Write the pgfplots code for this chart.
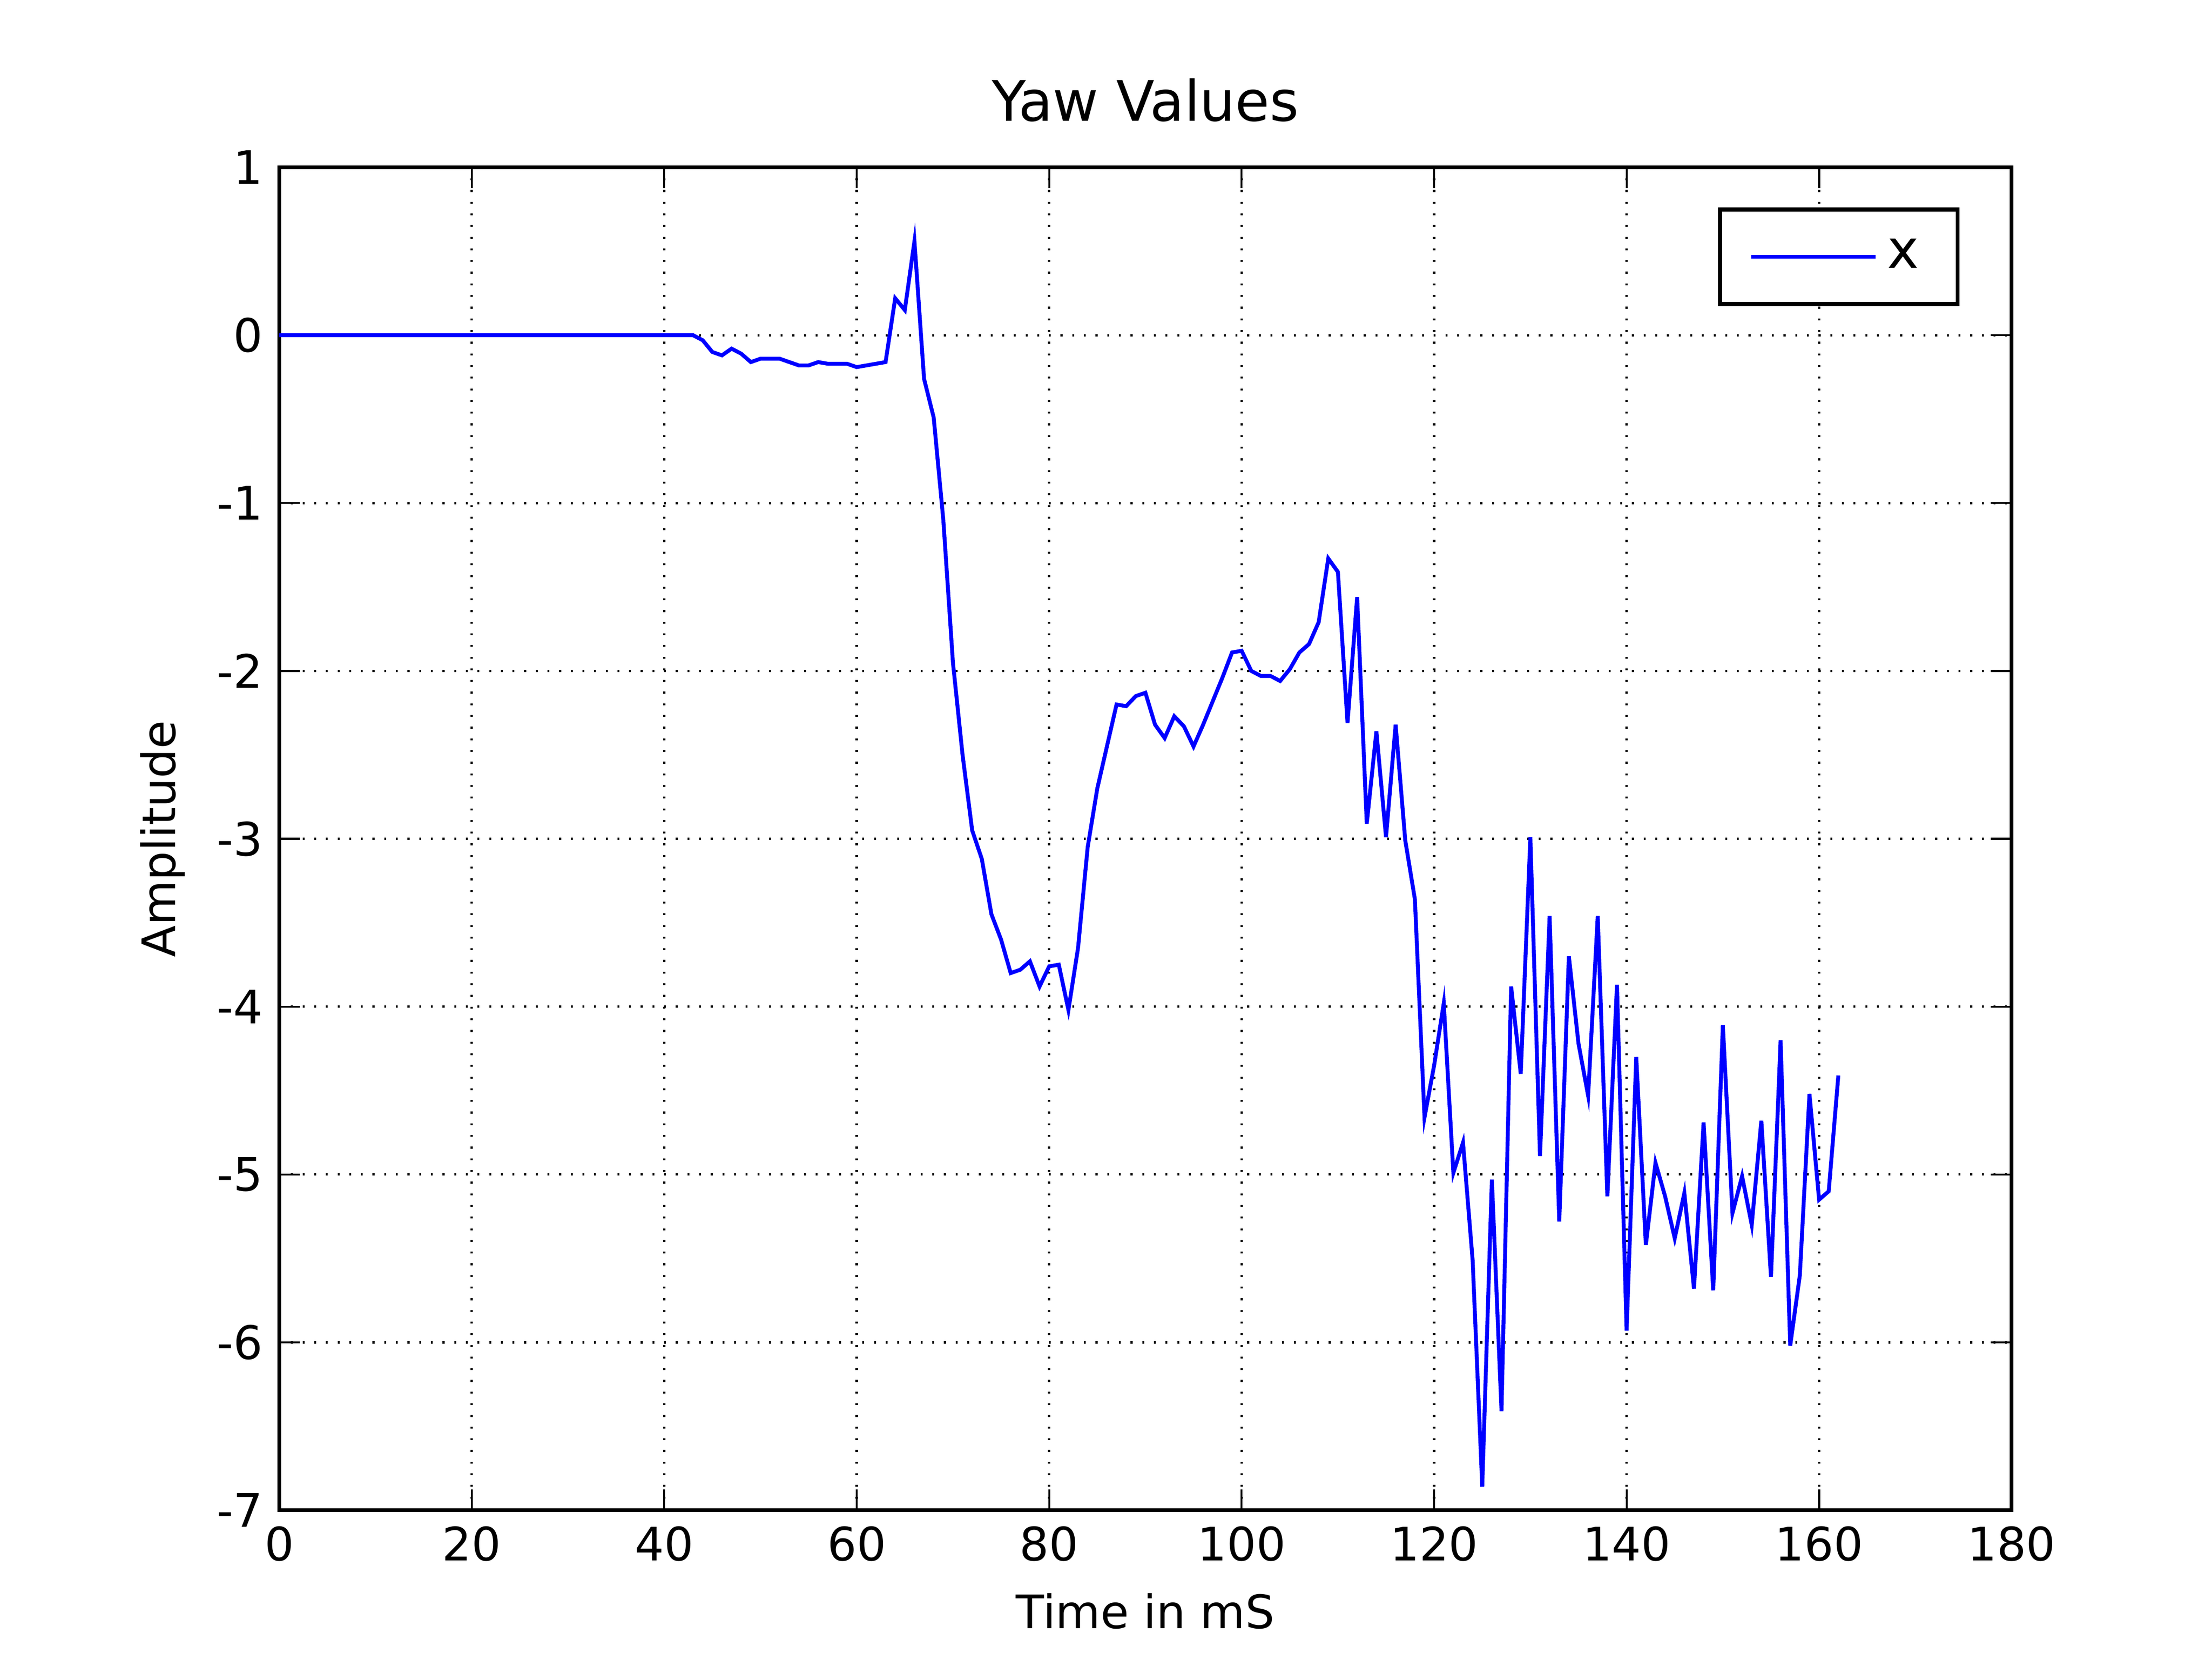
\documentclass[border=0pt]{standalone}
\usepackage{pgfplots}
\pgfplotsset{compat=1.18}
\usepackage{fontspec}
\setmainfont{DejaVu Sans}
\begin{document}
\fontsize{9.5}{11}\selectfont
\begin{tikzpicture}
\path[use as bounding box] (-2.02cm,-1.08cm) rectangle (13.98cm,10.92cm);
\begin{axis}[scale only axis, width=12.53cm, height=9.71cm, at={(0,0)}, anchor=south west,
 xmin=0, xmax=180, ymin=-7, ymax=1,
 xtick={0,20,...,180}, ytick={-7,...,1},
 tick align=inside, tick style={black, thin},
 grid=major, major grid style={black, dotted, line width=0.5pt},
 axis line style={black, line width=0.8pt},
 title={\fontsize{11.5}{13}\selectfont Yaw Values},
 xlabel={Time in mS}, ylabel={Amplitude},
 /pgf/number format/assume math mode=true,
 ticklabel style={font=\fontsize{9.5}{11}\selectfont},
 legend pos=north east,
 legend style={draw=black, line width=0.8pt, font=\fontsize{11}{13}\selectfont, inner xsep=6pt, inner ysep=4pt},
 legend cell align=left,
 legend image code/.code={\draw[#1] (0cm,0cm) -- (0.9cm,0cm);},
]
\addplot[blue, line width=0.8pt] coordinates {
(0,0)(10,0)(20,0)(30,0)(40,0)(43,0)(44,-0.03)(45,-0.1)(46,-0.12)(47,-0.08)(48,-0.11)(49,-0.16)(50,-0.14)(51,-0.14)(52,-0.14)(53,-0.16)(54,-0.18)(55,-0.18)(56,-0.16)(57,-0.17)(58,-0.17)(59,-0.17)(60,-0.19)(61,-0.18)(62,-0.17)(63,-0.16)(64,0.22)(65,0.15)(66,0.56)(67,-0.26)(68,-0.49)(69,-1.1)(70,-1.95)(71,-2.5)(72,-2.95)(73,-3.12)(74,-3.45)(75,-3.6)(76,-3.8)(77,-3.78)(78,-3.73)(79,-3.88)(80,-3.76)(81,-3.75)(82,-4.02)(83,-3.65)(84,-3.05)(85,-2.7)(86,-2.45)(87,-2.2)(88,-2.21)(89,-2.15)(90,-2.13)(91,-2.32)(92,-2.4)(93,-2.27)(94,-2.33)(95,-2.45)(96,-2.32)(97,-2.18)(98,-2.04)(99,-1.89)(100,-1.88)(101,-2.0)(102,-2.03)(103,-2.03)(104,-2.06)(105,-1.99)(106,-1.89)(107,-1.84)(108,-1.71)(109,-1.33)(110,-1.41)(111,-2.31)(112,-1.56)(113,-2.91)(114,-2.36)(115,-2.99)(116,-2.32)(117,-3.01)(118,-3.36)(119,-4.66)(120,-4.35)(121,-3.98)(122,-4.99)(123,-4.81)(124,-5.51)(125,-6.86)(126,-5.03)(127,-6.41)(128,-3.88)(129,-4.4)(130,-2.99)(131,-4.89)(132,-3.46)(133,-5.28)(134,-3.7)(135,-4.22)(136,-4.53)(137,-3.46)(138,-5.13)(139,-3.87)(140,-5.93)(141,-4.3)(142,-5.42)(143,-4.93)(144,-5.13)(145,-5.38)(146,-5.11)(147,-5.68)(148,-4.69)(149,-5.69)(150,-4.11)(151,-5.23)(152,-5.01)(153,-5.3)(154,-4.68)(155,-5.61)(156,-4.2)(157,-6.02)(158,-5.6)(159,-4.52)(160,-5.15)(161,-5.1)(162,-4.41)
};
\addlegendentry{x}
\end{axis}
\end{tikzpicture}
\end{document}
